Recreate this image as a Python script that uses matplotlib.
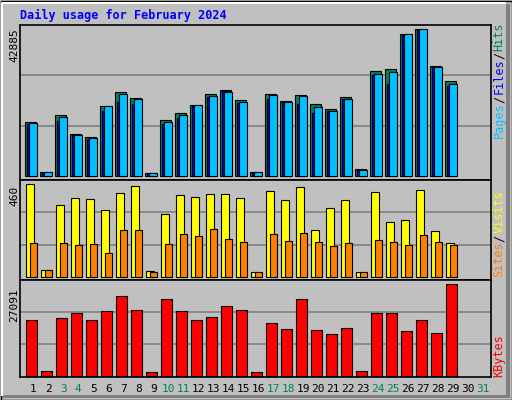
import matplotlib
matplotlib.use("Agg")
import matplotlib.pyplot as plt
from matplotlib.patches import Rectangle

days = list(range(1, 32))
weekend_days = [3, 4, 10, 11, 17, 18, 24, 25, 31]

hits = [15665, 1167, 17795, 12252, 11377, 20420, 24504, 22754, 875, 16336,
        18378, 20712, 23920, 25087, 22170, 1167, 23920, 21878, 23629, 21004,
        19545, 23045, 2042, 30630, 31213, 41423, 42885, 32088, 27713]
files = [15500, 1100, 17100, 12000, 11100, 20300, 23800, 22600, 850, 15800,
         17800, 20600, 23300, 24500, 21500, 1100, 23500, 21700, 23300, 20200,
         19000, 22500, 1800, 29800, 30400, 41300, 42800, 31900, 26900]
pages = [15300, 1000, 15900, 11900, 10900, 18900, 21500, 21000, 800, 15300,
         16800, 20400, 23000, 24700, 21300, 1000, 22600, 21500, 21000, 18500,
         19000, 22500, 1700, 29500, 26700, 41000, 42500, 31800, 26200]
visits = [460, 37, 356, 390, 385, 331, 415, 450, 32, 311, 405, 395, 410, 410,
          390, 27, 425, 380, 445, 231, 341, 380, 27, 420, 271, 281, 430, 226, 171]
sites = [171, 37, 171, 161, 166, 117, 231, 231, 27, 166, 211, 201, 236, 191,
         176, 27, 211, 181, 216, 176, 156, 171, 27, 186, 176, 161, 206, 176, 161]
kbytes = [16421, 1304, 17013, 18495, 16421, 19088, 23534, 19561, 1008, 22645,
          19088, 16421, 17310, 20568, 19561, 1008, 15532, 13753, 22645, 13457,
          12271, 14049, 1304, 18495, 18495, 13160, 16421, 12568, 27091]

BG = "#c0c0c0"
W, H = 512, 400
fig = plt.figure(figsize=(W / 100, H / 100), dpi=100, facecolor=BG)
mono = "DejaVu Sans Mono"


def px_axes(x0, y0, x1, y1):
    return fig.add_axes([x0 / W, 1 - y1 / H, (x1 - x0) / W, (y1 - y0) / H])


# overlay for decoration in pixel coordinates
deco = fig.add_axes([0, 0, 1, 1], zorder=-1)
deco.set_xlim(0, W)
deco.set_ylim(H, 0)
deco.axis("off")
deco.add_patch(Rectangle((0.5, 0.5), W - 1, H - 1, fill=False, ec="black", lw=1))
deco.plot([2, 2, 505], [395, 3, 3], color="white", lw=1.5)
deco.add_patch(Rectangle((506, 4), 4, 394, color="#808080", lw=0))
deco.add_patch(Rectangle((2, 395), 508, 3, color="#808080", lw=0))

deco.text(20, 15, "Daily usage for February 2024", color="#0000ff",
          family=mono, weight="bold", fontsize=8.5, va="center")

x0, x1 = 20, 491
xlim = ((x0 - 18.3) / 15, (x1 - 18.3) / 15)


def panel(y0, y1, base_px, top_px, vmax):
    ax = px_axes(x0, y0, x1, y1)
    ax.set_facecolor(BG)
    ax.set_xlim(*xlim)
    scale = vmax / (base_px - top_px)
    ax.set_ylim(-(y1 - base_px) * scale, (base_px - y0) * scale)
    hgt = (base_px - y0) * scale
    for f in (1 / 3, 2 / 3):
        ax.axhline(hgt * f, color="#808080", lw=1.2, zorder=0)
    ax.set_xticks([])
    ax.set_yticks([])
    for s in ax.spines.values():
        s.set_color("black")
        s.set_linewidth(1.2)
    return ax


n = len(hits)
xs = days[:n]

ax1 = panel(25, 180, 176, 29, max(hits))
ax1.bar([d - 0.553 for d in xs], hits, width=0.73, align="edge", color="#00805c", ec="black", lw=0.8)
ax1.bar([d - 0.42 for d in xs], pages, width=0.6, align="edge", color="#0000ff", ec="black", lw=0.8)
ax1.bar([d - 0.29 for d in xs], files, width=0.52, align="edge", color="#00c0ff", ec="black", lw=0.8)

ax2 = panel(180, 280, 277, 184.3, max(visits))
ax2.bar([d - 0.49 for d in xs], visits, width=0.55, align="edge", color="#ffff00", ec="black", lw=0.8)
ax2.bar([d - 0.25 for d in xs], sites, width=0.5, align="edge", color="#ff8000", ec="black", lw=0.8)

ax3 = panel(280, 377, 375.7, 284.3, max(kbytes))
ax3.bar([d - 0.49 for d in xs], kbytes, width=0.72, align="edge", color="#ff0000", ec="black", lw=0.8)

# max labels on the left
for y, v in ((45, max(hits)), (196, max(visits)), (305, max(kbytes))):
    deco.text(14, y, str(v), rotation=90, family=mono, fontsize=8,
              va="center", ha="center", color="black")


# right side legends, stacked bottom to top
def vlegend(parts, y_start):
    y = y_start
    for txt, col in parts:
        deco.text(499, y, txt, rotation=90, family=mono, fontsize=8.5,
                  color=col, va="bottom", ha="center")
        y -= len(txt) * 6.6 + 2


vlegend([("Pages", "#00c0ff"), ("/", "black"), ("Files", "#0000ff"),
         ("/", "black"), ("Hits", "#00805c")], 138)
vlegend([("Sites", "#ff8000"), ("/", "black"), ("Visits", "#ffff00")], 277)
vlegend([("KBytes", "#ff0000")], 377)

for d in days:
    col = "#00805c" if d in weekend_days else "black"
    deco.text(18.3 + 15 * d, 389, str(d), family=mono, fontsize=8,
              color=col, ha="center", va="center")

fig.savefig("out.png", dpi=100, facecolor=BG)
